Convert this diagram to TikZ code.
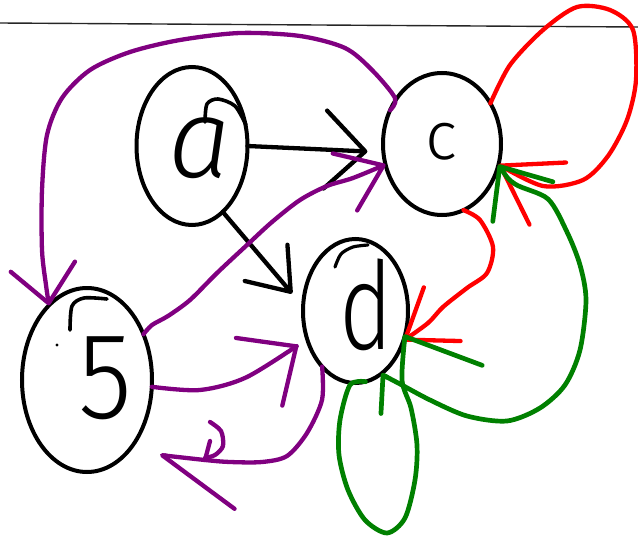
\documentclass[tikz,border=0pt]{standalone}
\usepackage{fontspec}
\newfontfamily\hand{Fira Sans}[UprightFont={* Light}, ItalicFont={* Light Italic}]
\usetikzlibrary{shapes.geometric,arrows.meta}
\definecolor{hpurple}{RGB}{128,0,128}
\definecolor{hgreen}{RGB}{0,128,0}
\definecolor{hred}{RGB}{255,0,0}
\begin{document}
\begin{tikzpicture}[x=1pt,y=-1pt,
  circ/.style={draw=black, line width=4pt, ellipse, inner sep=0pt, outer sep=0pt},
  letter/.style={inner sep=0pt, outer sep=0pt, text=black},
  pen/.style={line width=4.3pt, line cap=round, line join=round},
  blk/.style={pen, draw=black},
  pur/.style={pen, draw=hpurple},
  rd/.style={pen, draw=hred},
  grn/.style={pen, draw=hgreen, line width=4.7pt},
]
\useasboundingbox (0,0) rectangle (638,538);
\draw[black!85, line width=1.4pt] (0,23) -- (638,27);

% states
\node[circ, minimum width=111pt, minimum height=158pt] (a) at (192,146) {};
\node[circ, minimum width=118pt, minimum height=142pt] (c) at (442,144) {};
\node[circ, minimum width=105pt, minimum height=144pt] (d) at (355.5,311) {};
\node[circ, minimum width=130pt, minimum height=184pt] (n5) at (87,380) {};

\node[letter, font=\fontsize{112}{112}\selectfont\hand\itshape] (la) at (200,148) {a};
\node[letter, font=\fontsize{68}{68}\selectfont\hand] (lc) at (441,142) {c};
\node[letter, font=\fontsize{122}{122}\selectfont\hand] (ld) at (366,305) {\scalebox{0.75}[1]{d}};
\node[letter, font=\fontsize{123}{123}\selectfont\hand] (l5) at (105,378) {\scalebox{0.9}[1]{5}};

% pen overlaps of the hand-drawn circles
\draw[blk, line width=3.6pt] plot[smooth] coordinates {(205,122) (207,104) (218,99) (235,106) (246,125)};
\draw[blk, line width=3.6pt] plot[smooth] coordinates {(70,330) (72,306) (84,298) (107,299)};
\draw[blk, line width=3.2pt] plot[smooth] coordinates {(335,267) (341,254) (353,247) (368,245)};
\fill[black] (57,345) circle (1.7pt);

% black edges
\draw[blk, shorten >=16pt, -{Straight Barb[length=40pt,width=78pt,round]}] (a.east) -- (c.188);
\draw[blk, shorten >=17pt, -{Straight Barb[length=38pt,width=56pt,round]}] (a.-65) -- (d.175);

% purple edges
\draw[pur, -{Straight Barb[length=37pt,width=65pt,round]}] plot[smooth] coordinates {(c.147) (395,98) (372,70) (345,48) (300,36) (240,33) (180,40) (130,52) (90,70) (62,98) (47,135) (42,190) (42,250) (46,285) (n5.117)};
\draw[pur, -{Straight Barb[length=42pt,width=62pt,round]}] plot[smooth] coordinates {(n5.39) (152,325) (168,316) (190,300) (217,273) (247,245) (272,222) (300,200) (327,186) (353,178) (c.-160)};
\draw[pur, shorten >=11pt, -{Straight Barb[length=45pt,width=82pt,round]}] plot[smooth] coordinates {(n5.-6) (200,390) (247,377) (d.210)};
\coordinate (t-d5) at (160,455);
\draw[pur, -{Straight Barb[left,length=78pt,width=90pt,round]}] plot[smooth] coordinates {(d.-121) (322,400) (307,433) (287,456) (262,462) (230,462) (205,460) (t-d5)};
\draw[pur] plot[smooth] coordinates {(210,422) (221,431) (223,446) (215,455) (205,458)};
\draw[pur] (210,441) -- (205,460);

% red edges
\draw[rd, -{Straight Barb[length=55pt,width=72pt,round]}] plot[smooth] coordinates {(c.40) (510,65) (543,30) (577,7) (610,10) (633,30) (636,80) (627,120) (608,156) (583,180) (543,186) (c.-20)};
\draw[rd, -{Straight Barb[length=45pt,width=65pt,round]}] plot[smooth] coordinates {(c.-72) (480,220) (493,247) (487,273) (467,288) (443,307) (428,323) (d.-32)};

% green edges
\draw[grn, {Straight Barb[length=42pt,width=72pt,round]}-{Straight Barb[left,length=16pt,width=70pt,round]}] plot[smooth] coordinates {(c.-20) (515,184) (548,199) (567,232) (580,265) (586,300) (580,350) (565,385) (540,408) (507,421) (467,416) (430,400) (400,384) (d.-68)};
\draw[grn, -{Straight Barb[right,length=20pt,width=160pt,round]}] plot[smooth] coordinates {(d.-82) (350,385) (340,420) (339,455) (348,490) (365,520) (387,533) (405,518) (415,480) (417,445) (411,408) (402,380) (d.-25)};
\end{tikzpicture}
\end{document}
